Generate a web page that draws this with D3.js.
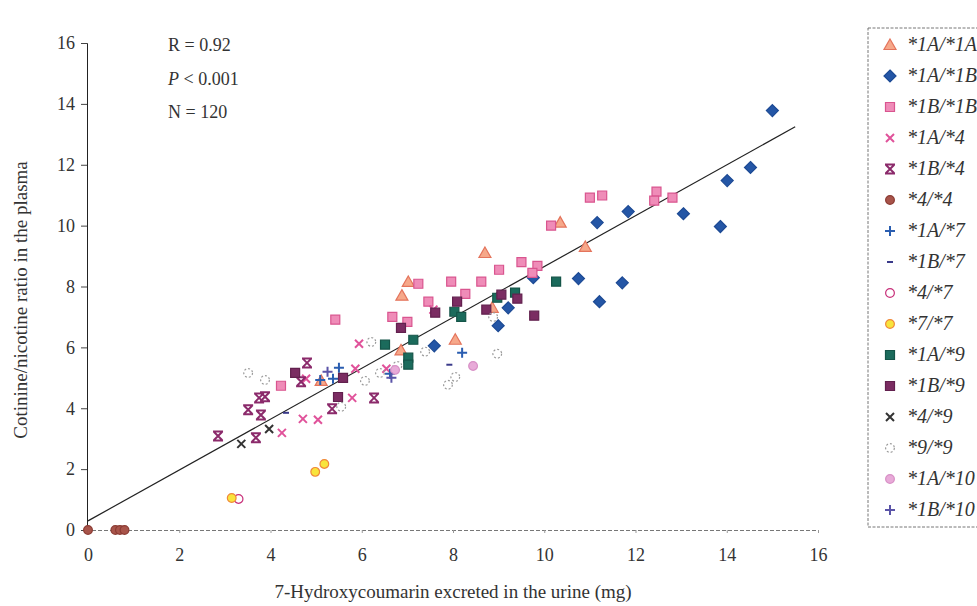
<!DOCTYPE html>
<html>
<head>
<meta charset="utf-8">
<script src="https://cdn.jsdelivr.net/npm/d3@7"></script>
<style>
  body { margin: 0; background: #fff; }
  text { font-family: "Liberation Serif", "DejaVu Serif", serif; fill: #333; }
</style>
</head>
<body>
<script>
// genotype groups, values: [7-HC mg, cotinine/nicotine]
var g1A1A  = [[10.35,10.1],[10.9,9.3],[8.7,9.1],[7.02,8.15],[6.88,7.7],[8.86,7.3],[8.05,6.25],[6.86,5.9],[5.11,4.9]]
var g1A1B  = [[15.0,13.78],[14.52,11.91],[14.01,11.48],[13.86,9.97],[13.05,10.39],[11.84,10.46],[11.16,10.1],
              [10.75,8.26],[11.71,8.12],[11.21,7.5],[9.76,8.29],[9.21,7.3],[8.99,6.71],[7.59,6.05]]
var g1B1B  = [[11.0,10.92],[11.27,10.99],[12.46,11.12],[12.41,10.82],[12.81,10.92],[10.15,10.0],[7.24,8.09],
              [7.96,8.16],[8.62,8.16],[9.01,8.55],[9.5,8.8],[9.85,8.68],[9.74,8.45],[8.27,7.76],[7.46,7.5],
              [6.67,7.0],[7.0,6.84],[5.42,6.91],[4.23,4.74]]
var g1A4   = [[5.94,6.12],[4.78,4.97],[5.86,5.3],[5.79,4.34],[4.71,3.65],[5.04,3.62],[4.25,3.19],[6.54,5.3],[7.57,7.24]]
var g1B4   = [[4.8,5.49],[4.67,4.87],[3.75,4.34],[3.88,4.38],[3.51,3.95],[3.79,3.78],[6.27,4.34],[5.35,3.98],[3.68,3.03],[2.85,3.09]]
var g44    = [[0,0],[0.6,0],[0.7,0],[0.8,0]]
var g1A7   = [[5.5,5.33],[5.37,4.97],[5.09,4.93],[8.2,5.82],[6.62,5.13]]
var g1B7   = [[7.92,5.43],[4.34,3.85]]
var g47    = [[3.3,1.02]]
var g77    = [[3.15,1.05],[4.98,1.91],[5.18,2.17]]
var g1A9   = [[6.51,6.09],[7.13,6.25],[7.02,5.66],[7.02,5.43],[8.03,7.17],[8.18,7.0],[8.97,7.63],[9.36,7.8],[10.26,8.16]]
var g1B9   = [[8.09,7.5],[7.61,7.14],[6.86,6.64],[9.06,7.73],[9.41,7.6],[8.73,7.24],[9.78,7.04],[4.54,5.16],[5.59,5.0],[5.48,4.37]]
var g49    = [[3.97,3.32],[3.36,2.83]]
var g99    = [[3.51,5.16],[3.88,4.93],[6.21,6.18],[6.07,4.9],[6.4,5.16],[5.55,4.05],[7.39,5.86],[6.78,5.39],
              [7.89,4.77],[8.05,5.03],[8.97,5.79],[8.88,7.0]]
var g1A10  = [[8.44,5.39],[6.73,5.26]]
var g1B10  = [[5.25,5.2],[6.65,5.0]]

var labels = ["*1A/*1A","*1A/*1B","*1B/*1B","*1A/*4","*1B/*4","*4/*4","*1A/*7","*1B/*7",
              "*4/*7","*7/*7","*1A/*9","*1B/*9","*4/*9","*9/*9","*1A/*10","*1B/*10"]
var groups = [g1A1A,g1A1B,g1B1B,g1A4,g1B4,g44,g1A7,g1B7,g47,g77,g1A9,g1B9,g49,g99,g1A10,g1B10]

// regression line end points
var fitStart = [0, 0.3], fitEnd = [15.5, 13.25]
var xTicks = [0,2,4,6,8,10,12,14,16]
var yTicks = [0,2,4,6,8,10,12,14,16]
var stats = ["R = 0.92", "P < 0.001", "N = 120"]

// marker style per genotype
var styles = [
  {shape: "triangle", fill: "#f6a88a", stroke: "#e4745c"},
  {shape: "diamond",  fill: "#2456a6", stroke: "#1d4a94"},
  {shape: "square",   fill: "#ef8cb8", stroke: "#d9558f"},
  {shape: "x",        fill: "none",    stroke: "#e0529a"},
  {shape: "xbar",     fill: "none",    stroke: "#8b2a6b"},
  {shape: "circle",   fill: "#a8544a", stroke: "#8c3c34"},
  {shape: "plus",     fill: "none",    stroke: "#2a5db0"},
  {shape: "dash",     fill: "none",    stroke: "#3a3a8a"},
  {shape: "ring",     fill: "#fff",    stroke: "#c8307a"},
  {shape: "circle",   fill: "#f8e43c", stroke: "#f0883a"},
  {shape: "square",   fill: "#1b6b5c", stroke: "#145448"},
  {shape: "square",   fill: "#7b2c62", stroke: "#62204e"},
  {shape: "x",        fill: "none",    stroke: "#333"},
  {shape: "dashring", fill: "none",    stroke: "#9a9a9a"},
  {shape: "circle",   fill: "#e8aad8", stroke: "#d890c6"},
  {shape: "plus",     fill: "none",    stroke: "#5b54a8"}
]

var W = 977, H = 606
var svg = d3.select("body").append("svg").attr("width", W).attr("height", H)

var x = d3.scaleLinear().domain([0, 16]).range([88, 818])
var y = d3.scaleLinear().domain([0, 16]).range([530, 43])

function markerPath(shape) {
  switch (shape) {
    case "triangle": return "M0,-6L6,4.5L-6,4.5Z"
    case "diamond":  return "M0,-6L6,0L0,6L-6,0Z"
    case "square":   return "M-4.5,-4.5H4.5V4.5H-4.5Z"
    case "circle":
    case "ring":
    case "dashring": return d3.symbol(d3.symbolCircle, 60)()
    case "x":    return "M-4,-4L4,4M-4,4L4,-4"
    case "xbar": return "M-4,-4L4,4M-4,4L4,-4M-5,-4.5L5,-4.5M-5,4.5L5,4.5"
    case "plus": return "M-5,0L5,0M0,-5L0,5"
    case "dash": return "M-3,0L3,0"
  }
}

function drawMarker(sel, st) {
  var line = ["x", "xbar", "plus", "dash"].indexOf(st.shape) >= 0
  sel.append("path")
    .attr("d", markerPath(st.shape))
    .attr("fill", line ? "none" : st.fill)
    .attr("stroke", st.stroke)
    .attr("stroke-width", line ? 2 : 1.2)
    .attr("stroke-dasharray", st.shape == "dashring" ? "2,2" : null)
}

// y axis
var yAxis = d3.axisLeft(y).tickValues(yTicks).tickSize(6).tickPadding(6)
var gy = svg.append("g").attr("transform", "translate(" + (x(0) - 1) + ",0)").call(yAxis)
gy.select(".domain").attr("stroke", "#222")
gy.selectAll(".tick line").attr("stroke", "#444")
gy.selectAll("text").attr("font-size", 18).attr("fill", "#444")

// x axis (dashed baseline)
var xAxis = d3.axisBottom(x).tickValues(xTicks).tickSize(3).tickPadding(15)
var gx = svg.append("g").attr("transform", "translate(0," + y(0) + ")").call(xAxis)
gx.select(".domain").attr("stroke", "#777").attr("stroke-dasharray", "4,2")
gx.selectAll(".tick line").attr("stroke", "#999")
gx.selectAll("text").attr("font-size", 18).attr("fill", "#444")

// regression line
svg.append("line")
  .attr("x1", x(fitStart[0])).attr("y1", y(fitStart[1]))
  .attr("x2", x(fitEnd[0])).attr("y2", y(fitEnd[1]))
  .attr("stroke", "#222").attr("stroke-width", 1.2)

// points
groups.forEach(function(pts, i) {
  svg.append("g").selectAll("g")
    .data(pts)
    .enter().append("g")
      .attr("transform", function(d) { return "translate(" + x(d[0]) + "," + y(d[1]) + ")" })
      .each(function() { drawMarker(d3.select(this), styles[i]) })
})

// stats
stats.forEach(function(s, i) {
  var t = svg.append("text").attr("x", 168).attr("y", 51 + i * 33.5).attr("font-size", 18).attr("fill", "#222")
  if (s[0] == "P") {
    t.append("tspan").attr("font-style", "italic").text("P")
    t.append("tspan").text(s.slice(1))
  } else t.text(s)
})

// axis titles
svg.append("text")
  .attr("x", 453).attr("y", 598)
  .attr("text-anchor", "middle").attr("font-size", 19).attr("fill", "#333")
  .text("7-Hydroxycoumarin excreted in the urine (mg)")

svg.append("text")
  .attr("transform", "translate(27,300) rotate(-90)")
  .attr("text-anchor", "middle").attr("font-size", 19).attr("fill", "#333")
  .text("Cotinine/nicotine ratio in the plasma")

// legend
var legend = svg.append("g")
legend.append("rect")
  .attr("x", 868).attr("y", 28).attr("width", 130).attr("height", 499)
  .attr("fill", "none").attr("stroke", "#777").attr("stroke-dasharray", "3,1.5")

labels.forEach(function(l, i) {
  var ly = 45 + i * 31
  var g = legend.append("g").attr("transform", "translate(890," + ly + ")")
  drawMarker(g, styles[i])
  g.append("text").attr("x", 17).attr("y", 6).attr("font-size", 20)
    .attr("font-style", "italic").attr("fill", "#444").text(l)
})
</script>
</body>
</html>
